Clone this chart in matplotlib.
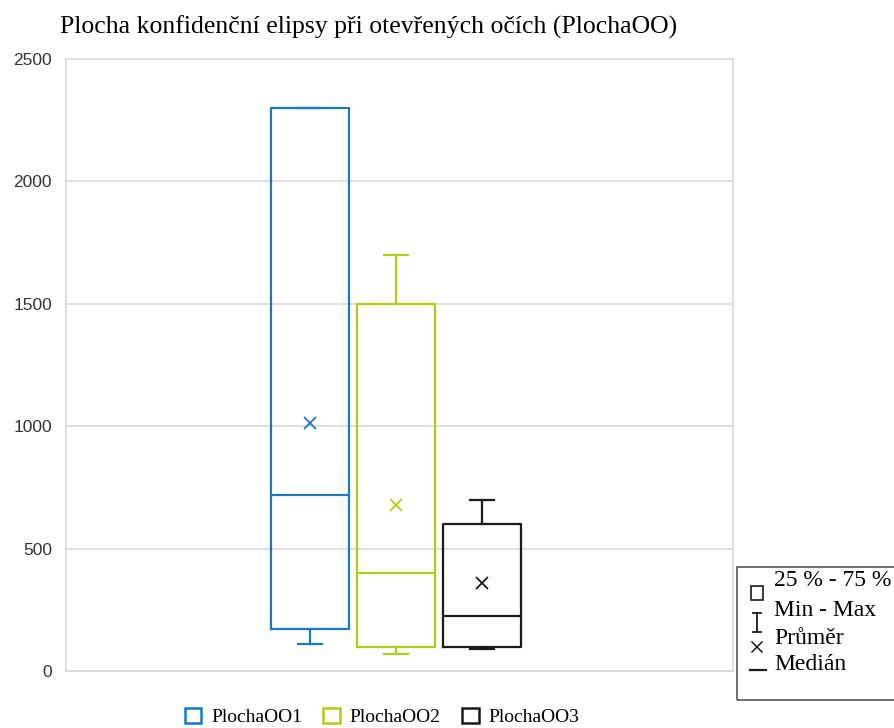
import matplotlib.pyplot as plt
from matplotlib.patches import Patch, Rectangle
from matplotlib.lines import Line2D

# values
series = ['PlochaOO1', 'PlochaOO2', 'PlochaOO3']
colors = ['#1B78C2', '#B2CB17', '#1A1A1A']
q1 = [170, 100, 100]
median = [720, 400, 225]
q3 = [2300, 1500, 600]
minimum = [110, 70, 88]
maximum = [2300, 1700, 700]
mean = [1015, 680, 360]
yticks = [0, 500, 1000, 1500, 2000, 2500]
key_labels = ['25 % - 75 %', 'Min - Max', 'Průměr', 'Medián']

serif = 'Liberation Serif'
sans = 'Liberation Sans'

fig = plt.figure(figsize=(8.94, 7.28), dpi=100)
ax = fig.add_axes([66 / 894, 1 - 671 / 728, 667 / 894, 612 / 728])

for i, name in enumerate(series):
    stats = [dict(med=median[i], q1=q1[i], q3=q3[i], whislo=minimum[i],
                  whishi=maximum[i], mean=mean[i], fliers=[], label=name)]
    c = colors[i]
    ax.bxp(stats, positions=[i + 1], widths=0.9, showmeans=True,
           showfliers=False, patch_artist=False,
           boxprops=dict(color=c, linewidth=1.6),
           medianprops=dict(color=c, linewidth=1.6),
           whiskerprops=dict(color=c, linewidth=1.6),
           capprops=dict(color=c, linewidth=1.6),
           capwidths=0.28,
           meanprops=dict(marker='x', markeredgecolor=c, markersize=9,
                          markeredgewidth=1.3, linestyle='none'))

ax.set_xlim(-1.84, 5.92)
ax.set_ylim(0, 2500)
ax.set_yticks(yticks)
ax.set_xticks([])
ax.grid(axis='y', color='#d9d9d9', linewidth=1.2)
ax.set_axisbelow(True)
for s in ax.spines.values():
    s.set_color('#d9d9d9')
    s.set_linewidth(1.2)
ax.tick_params(axis='y', length=0, pad=10, labelsize=12.5)
for t in ax.get_yticklabels():
    t.set_fontfamily(sans)
    t.set_color('#333333')

fig.text(60 / 894, 1 - 27 / 728, 'Plocha konfidenční elipsy při otevřených očích (PlochaOO)',
         family=serif, fontsize=18.5, va='center', ha='left')

handles = [Patch(facecolor='white', edgecolor=c, linewidth=1.8) for c in colors]
fig.legend(handles, series, loc='center', bbox_to_anchor=(382 / 894, 1 - 717 / 728),
           ncol=3, frameon=False, prop=dict(family=serif, size=14),
           handlelength=0.85, handleheight=0.85, handletextpad=0.5, columnspacing=1.1)

# key box on the right
fig.add_artist(Rectangle((737 / 894, 1 - 700 / 728), 170 / 894, 133 / 728,
                         transform=fig.transFigure, fill=False,
                         edgecolor='#555555', linewidth=1.2))
ys = [580, 610, 638, 665]
for y, lab in zip(ys, key_labels):
    fig.text(774 / 894, 1 - y / 728, lab, family=serif, fontsize=17, va='center', ha='left')

def fl(x0, y0, x1, y1, lw=1.3):
    fig.add_artist(Line2D([x0 / 894, x1 / 894], [1 - y0 / 728, 1 - y1 / 728],
                          transform=fig.transFigure, color='#1a1a1a', linewidth=lw))

fig.add_artist(Rectangle((751 / 894, 1 - 600 / 728), 12 / 894, 14 / 728,
                         transform=fig.transFigure, fill=False,
                         edgecolor='#1a1a1a', linewidth=1.2))
fl(757, 613, 757, 632)
fl(753, 613, 761, 613)
fl(753, 632, 761, 632)
fl(752, 642, 762, 652, 1.1)
fl(752, 652, 762, 642, 1.1)
fl(750, 670, 766, 670, 1.6)

fig.savefig('out.png', dpi=100)
